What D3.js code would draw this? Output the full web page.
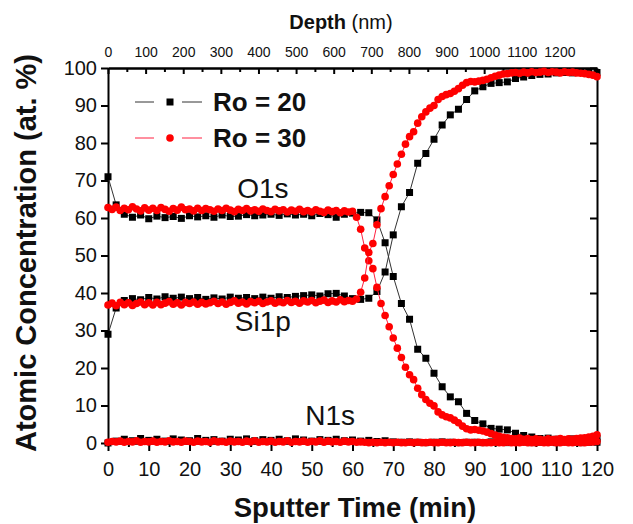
<!DOCTYPE html>
<html>
<head>
<meta charset="utf-8">
<script src="https://cdn.jsdelivr.net/npm/d3@7"></script>
<style>
  body { margin: 0; background: #fff; }
  text { font-family: "Liberation Sans", Arial, sans-serif; fill: #111; }
  .axis path, .axis line { stroke: #000; stroke-width: 2; }
  .axis text { font-size: 20px; }
  .axisTop text { font-size: 14px; }
</style>
</head>
<body>
<div class="chart"></div>
<script>
// sputter time (min) for each sample
var timeRo20 = [0, 2, 4, 6, 8, 10, 12, 14, 16, 18, 20, 22, 24, 26, 28, 30, 32, 34, 36, 38,
  40, 42, 44, 46, 48, 50, 52, 54, 56, 58, 60, 62, 64, 66, 68, 70, 72, 74, 76, 78,
  80, 82, 84, 86, 88, 90, 92, 94, 96, 98, 100, 102, 104, 106, 108, 110, 112, 114, 116, 118, 120];

var timeRo30 = [0, 1, 2, 3, 4, 5, 6, 7, 8, 9, 10, 11, 12, 13, 14, 15, 16, 17, 18, 19,
  20, 21, 22, 23, 24, 25, 26, 27, 28, 29, 30, 31, 32, 33, 34, 35, 36, 37, 38, 39,
  40, 41, 42, 43, 44, 45, 46, 47, 48, 49, 50, 51, 52, 53, 54, 55, 56, 57, 58, 59,
  60, 61, 62, 63, 64, 65, 66, 67, 68, 69, 70, 71, 72, 73, 74, 75, 76, 77, 78, 79,
  80, 81, 82, 83, 84, 85, 86, 87, 88, 89, 90, 91, 92, 93, 94, 95, 96, 97, 98, 99,
  100, 101, 102, 103, 104, 105, 106, 107, 108, 109, 110, 111, 112, 113, 114, 115, 116, 117, 118, 119, 120];

// Ro = 20 (black squares)
var o1sRo20 = [71.0, 63.5, 61.0, 60.2, 60.8, 59.8, 60.5, 60.1, 60.4, 59.9,
  60.6, 60.3, 60.6, 60.2, 60.8, 60.4, 60.5, 60.9, 60.6, 60.8,
  61.0, 60.7, 61.1, 60.8, 61.0, 60.6, 61.2, 60.9, 60.2, 61.0,
  61.3, 61.5, 61.4, 59.5, 53.4, 44.4, 37.2, 33.0, 25.0, 22.6,
  18.6, 15.0, 12.3, 11.0, 7.9, 6.0, 5.1, 3.9, 3.7, 3.5,
  2.6, 2.0, 1.6, 1.2, 1.3, 1.0, 0.9, 1.1, 0.8, 1.0,
  1.2];
var si1pRo20 = [29.0, 36.0, 38.0, 38.5, 38.2, 38.8, 38.4, 39.0, 38.6, 38.9,
  38.5, 38.8, 38.3, 38.7, 38.4, 38.9, 38.6, 38.8, 38.5, 38.9,
  38.6, 39.0, 38.8, 39.1, 39.3, 39.5, 39.2, 39.8, 39.9, 39.2,
  38.5, 38.3, 38.6, 40.4, 45.6, 55.5, 63.0, 66.8, 74.6, 77.2,
  81.0, 84.8, 87.5, 89.0, 91.6, 93.9, 95.0, 95.9, 96.1, 96.3,
  97.2, 97.6, 98.0, 98.3, 98.4, 98.7, 98.8, 98.7, 99.0, 98.9,
  98.8];
var n1sRo20 = [0.0, 0.5, 1.0, 0.6, 1.2, 0.7, 1.0, 0.5, 1.1, 0.8,
  0.6, 1.2, 0.7, 0.9, 0.5, 1.0, 0.8, 1.1, 0.6, 0.9,
  0.7, 1.0, 0.6, 1.1, 0.8, 0.5, 0.9, 0.7, 1.0, 0.6,
  0.8, 0.5, 0.7, 0.4, 0.6, 0.3, 0.2, 0.3, 0.2, 0.1,
  0.2, 0.3, 0.2, 0.1, 0.2, 0.2, 0.1, 0.3, 0.2, 0.1,
  0.2, 0.3, 0.1, 0.2, 0.2, 0.1, 0.3, 0.2, 0.1, 0.2,
  0.2];

// Ro = 30 (red circles)
var o1sRo30 = [62.8, 62.3, 62.9, 62.0, 62.6, 62.2, 63.0, 62.4, 61.9, 62.7,
  62.1, 62.6, 62.0, 62.8, 62.3, 61.8, 62.5, 62.1, 62.9, 62.2,
  62.4, 61.9, 62.6, 62.0, 62.5, 62.2, 61.8, 62.4, 62.0, 62.6,
  62.1, 61.7, 62.3, 62.0, 62.5, 61.9, 62.2, 61.8, 62.4, 62.0,
  61.7, 62.3, 61.9, 62.2, 61.6, 62.1, 61.8, 62.3, 61.7, 62.0,
  61.6, 62.2, 61.8, 61.5, 62.1, 61.7, 62.0, 61.4, 61.9, 61.6,
  61.8, 60.2, 57.0, 52.0, 48.6, 46.5, 41.5, 37.2, 34.0, 31.0,
  28.0, 25.3, 22.8, 20.2, 18.2, 16.9, 14.6, 12.9, 11.6, 10.6,
  9.9, 8.3, 7.5, 7.0, 6.7, 6.1, 5.4, 4.5, 3.8, 3.5,
  3.6, 3.4, 3.2, 2.9, 2.5, 2.1, 1.8, 1.5, 1.4, 1.2,
  1.1, 1.3, 1.0, 1.2, 0.9, 1.1, 1.0, 0.8, 1.1, 0.9,
  1.0, 1.2, 0.9, 1.1, 1.0, 1.2, 1.3, 1.4, 1.6, 1.8,
  2.2];
var si1pRo30 = [36.8, 37.3, 36.6, 37.5, 36.9, 37.4, 36.7, 37.2, 37.6, 36.9,
  37.4, 36.8, 37.5, 36.9, 37.3, 37.7, 37.0, 37.4, 36.8, 37.5,
  37.2, 37.6, 37.0, 37.5, 37.1, 37.4, 37.8, 37.2, 37.6, 37.0,
  37.5, 37.9, 37.3, 37.6, 37.1, 37.7, 37.4, 37.8, 37.2, 37.6,
  37.9, 37.3, 37.7, 37.4, 38.0, 37.5, 37.8, 37.3, 37.9, 37.6,
  38.0, 37.4, 37.8, 38.1, 37.5, 37.9, 37.6, 38.2, 37.7, 38.0,
  37.8, 38.4, 40.2, 44.0, 50.8, 53.2, 58.2, 62.5, 65.7, 68.6,
  71.6, 74.4, 77.0, 79.7, 81.7, 83.0, 85.3, 87.0, 88.3, 89.3,
  90.0, 91.6, 92.4, 92.9, 93.2, 93.8, 94.5, 95.4, 96.1, 96.4,
  96.3, 96.5, 96.7, 97.0, 97.4, 97.8, 98.1, 98.4, 98.5, 98.7,
  98.8, 98.6, 98.9, 98.7, 99.0, 98.8, 98.9, 99.1, 98.8, 99.0,
  98.9, 98.7, 99.0, 98.8, 98.9, 98.7, 98.6, 98.5, 98.3, 98.1,
  97.7];
var n1sRo30 = [0.2, 0.4, 0.3, 0.5, 0.2, 0.4, 0.3, 0.6, 0.2, 0.4,
  0.3, 0.5, 0.2, 0.4, 0.3, 0.6, 0.3, 0.4, 0.2, 0.5,
  0.4, 0.2, 0.5, 0.3, 0.4, 0.2, 0.6, 0.3, 0.4, 0.2,
  0.5, 0.3, 0.4, 0.2, 0.5, 0.3, 0.6, 0.2, 0.4, 0.3,
  0.5, 0.2, 0.4, 0.3, 0.6, 0.2, 0.4, 0.3, 0.5, 0.2,
  0.4, 0.3, 0.6, 0.2, 0.5, 0.3, 0.4, 0.2, 0.5, 0.3,
  0.4, 0.2, 0.3, 0.2, 0.1, 0.2, 0.1, 0.2, 0.1, 0.2,
  0.1, 0.2, 0.1, 0.1, 0.2, 0.1, 0.2, 0.1, 0.1, 0.2,
  0.1, 0.1, 0.2, 0.1, 0.1, 0.2, 0.1, 0.1, 0.2, 0.1,
  0.1, 0.2, 0.1, 0.1, 0.1, 0.2, 0.1, 0.1, 0.2, 0.1,
  0.1, 0.1, 0.2, 0.1, 0.1, 0.1, 0.2, 0.1, 0.1, 0.2,
  0.1, 0.1, 0.2, 0.1, 0.1, 0.2, 0.1, 0.1, 0.2, 0.3,
  0.4];

var timeTicks = [0, 10, 20, 30, 40, 50, 60, 70, 80, 90, 100, 110, 120];
var timeMinor = [5, 15, 25, 35, 45, 55, 65, 75, 85, 95, 105, 115];
var concTicks = [0, 10, 20, 30, 40, 50, 60, 70, 80, 90, 100];
var depthTicks = [0, 100, 200, 300, 400, 500, 600, 700, 800, 900, 1000, 1100, 1200];
var depthMinor = [50, 150, 250, 350, 450, 550, 650, 750, 850, 950, 1050, 1150, 1250];
var depthMax = 1300;

var legendNames = ["Ro = 20", "Ro = 30"];

var svgWidth = 633;
var svgHeight = 524;

var margin = {
  top: 68,
  right: 36,
  bottom: 81,
  left: 108
};

var width = svgWidth - margin.left - margin.right;
var height = svgHeight - margin.top - margin.bottom;

var svg = d3.select(".chart")
  .append("svg")
  .attr("width", svgWidth)
  .attr("height", svgHeight);

var chartGroup = svg.append("g")
  .attr("transform", `translate(${margin.left}, ${margin.top})`);

// Scales
// ==============================
var xLinearScale = d3.scaleLinear().domain([0, 120]).range([0, width]);
var yLinearScale = d3.scaleLinear().domain([0, 100]).range([height, 0]);
var depthScale = d3.scaleLinear().domain([0, depthMax]).range([0, width]);

// Axes
// ==============================
chartGroup.append("g")
  .attr("class", "axis")
  .attr("transform", `translate(0, ${height})`)
  .call(d3.axisBottom(xLinearScale).tickValues(timeMinor).tickSize(4).tickSizeOuter(0).tickFormat(""));

chartGroup.append("g")
  .attr("class", "axis")
  .attr("transform", `translate(0, ${height})`)
  .call(d3.axisBottom(xLinearScale).tickValues(timeTicks).tickSize(8).tickPadding(11).tickSizeOuter(0));

chartGroup.append("g")
  .attr("class", "axis")
  .call(d3.axisLeft(yLinearScale).tickValues(concTicks).tickSize(7).tickPadding(4).tickSizeOuter(0));

chartGroup.append("g")
  .attr("class", "axis")
  .attr("transform", `translate(${width}, 0)`)
  .call(d3.axisRight(yLinearScale).tickValues(concTicks).tickSize(-7).tickSizeOuter(0).tickFormat(""));

chartGroup.append("g")
  .attr("class", "axis")
  .call(d3.axisTop(depthScale).tickValues(depthMinor).tickSize(-4).tickSizeOuter(0).tickFormat(""));

chartGroup.append("g")
  .attr("class", "axis axisTop")
  .call(d3.axisTop(depthScale).tickValues(depthTicks).tickSize(-6).tickPadding(11).tickSizeOuter(0)
    .tickFormat(d3.format("d")));

// Series
// ==============================
function drawSeries(times, values, color, lineColor, shape) {
  var pts = times.map((t, i) => ({ t: t, v: values[i] }));
  var line = d3.line().x(d => xLinearScale(d.t)).y(d => yLinearScale(d.v));
  chartGroup.append("path")
    .datum(pts)
    .attr("d", line)
    .attr("fill", "none")
    .attr("stroke", lineColor)
    .attr("stroke-width", 1);
  if (shape == "square") {
    chartGroup.append("g").selectAll("rect")
      .data(pts)
      .enter()
      .append("rect")
      .attr("x", d => xLinearScale(d.t) - 3.5)
      .attr("y", d => yLinearScale(d.v) - 3.5)
      .attr("width", 7)
      .attr("height", 7)
      .attr("fill", color);
  } else {
    chartGroup.append("g").selectAll("circle")
      .data(pts)
      .enter()
      .append("circle")
      .attr("cx", d => xLinearScale(d.t))
      .attr("cy", d => yLinearScale(d.v))
      .attr("r", 3.8)
      .attr("fill", color);
  }
}

drawSeries(timeRo20, o1sRo20, "#000", "#333", "square");
drawSeries(timeRo20, si1pRo20, "#000", "#333", "square");
drawSeries(timeRo20, n1sRo20, "#000", "#333", "square");
drawSeries(timeRo30, o1sRo30, "#ff0000", "#ff2040", "circle");
drawSeries(timeRo30, si1pRo30, "#ff0000", "#ff2040", "circle");
drawSeries(timeRo30, n1sRo30, "#ff0000", "#ff2040", "circle");

// Element labels
chartGroup.append("text").attr("x", xLinearScale(38)).attr("y", yLinearScale(65.3))
  .attr("text-anchor", "middle").style("font-size", "28px").text("O1s");
chartGroup.append("text").attr("x", xLinearScale(38)).attr("y", yLinearScale(30))
  .attr("text-anchor", "middle").style("font-size", "28px").text("Si1p");
chartGroup.append("text").attr("x", xLinearScale(54.5)).attr("y", yLinearScale(4.8))
  .attr("text-anchor", "middle").style("font-size", "28px").text("N1s");

// Legend
var legend = chartGroup.append("g");
var legendRows = [
  { name: legendNames[0], y: 34, color: "#000", lineColor: "#333", shape: "square" },
  { name: legendNames[1], y: 70, color: "#ff0000", lineColor: "#ff2040", shape: "circle" }
];
legendRows.forEach(function(r) {
  legend.append("line").attr("x1", 27).attr("x2", 46).attr("y1", r.y).attr("y2", r.y)
    .attr("stroke", r.lineColor).attr("stroke-width", 1);
  legend.append("line").attr("x1", 74).attr("x2", 94).attr("y1", r.y).attr("y2", r.y)
    .attr("stroke", r.lineColor).attr("stroke-width", 1);
  if (r.shape == "square") {
    legend.append("rect").attr("x", 58.5).attr("y", r.y - 3.5).attr("width", 7).attr("height", 7).attr("fill", r.color);
  } else {
    legend.append("circle").attr("cx", 62).attr("cy", r.y).attr("r", 3.8).attr("fill", r.color);
  }
  legend.append("text").attr("x", 105).attr("y", r.y + 9)
    .style("font-size", "26px").style("font-weight", "bold").text(r.name);
});

// Axis titles
svg.append("text")
  .attr("transform", "translate(36, 253) rotate(-90)")
  .attr("text-anchor", "middle")
  .style("font-size", "29px")
  .style("font-weight", "bold")
  .text("Atomic Concentration (at. %)");

svg.append("text")
  .attr("x", 355)
  .attr("y", 517)
  .attr("text-anchor", "middle")
  .style("font-size", "27.5px")
  .style("font-weight", "bold")
  .text("Sputter Time (min)");

var depthTitle = svg.append("text")
  .attr("x", 341)
  .attr("y", 29)
  .attr("text-anchor", "middle")
  .style("font-size", "20px");
depthTitle.append("tspan").style("font-weight", "bold").text("Depth");
depthTitle.append("tspan").text(" (nm)");
</script>
</body>
</html>
